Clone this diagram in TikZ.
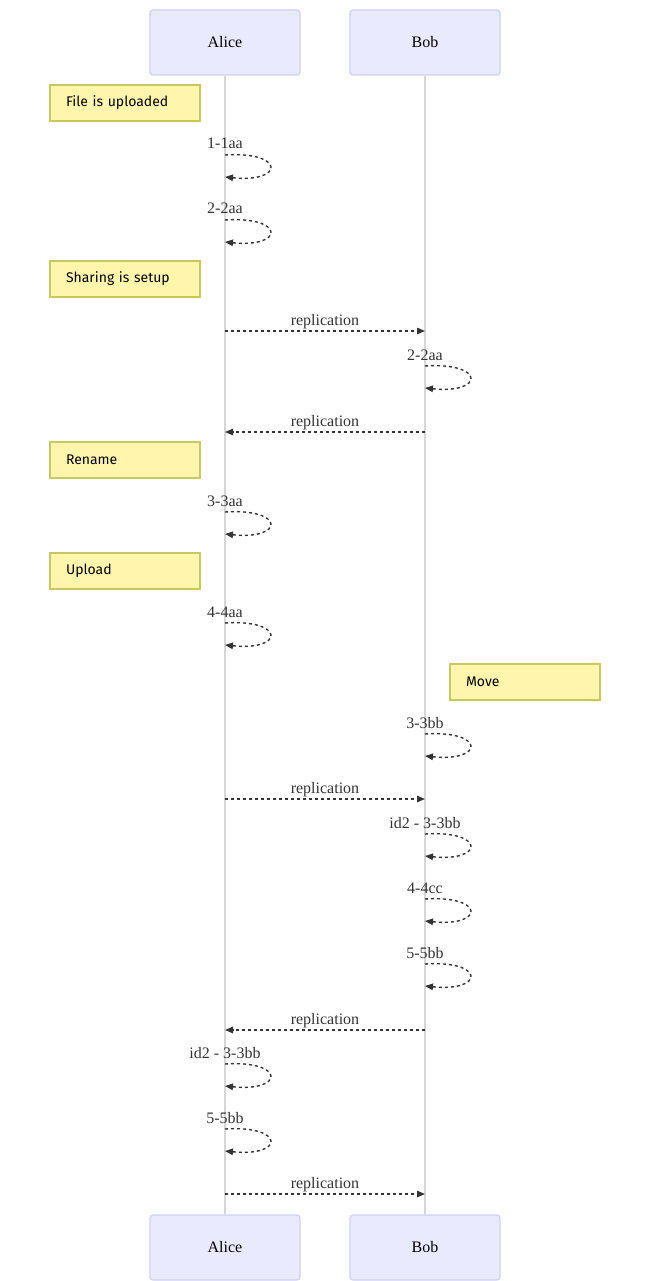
\documentclass[tikz,border=0pt]{standalone}
\usepackage{fontspec}
\setmainfont{Liberation Serif}
\newfontfamily\notefont{Fira Sans}
\usetikzlibrary{arrows.meta}
\definecolor{actorfill}{HTML}{EAEAFF}
\definecolor{actorline}{HTML}{CFCFF5}
\definecolor{notefill}{HTML}{FFF5AD}
\definecolor{noteline}{HTML}{C8C860}
\definecolor{lifeline}{HTML}{D6D6D6}
\definecolor{msgcol}{HTML}{333333}
\tikzset{
  actor/.style={draw=actorline, fill=actorfill, line width=1.2pt, rounded corners=3pt,
    minimum width=150pt, minimum height=65pt, inner sep=0pt,
    font=\fontsize{16}{19}\selectfont, text=black},
  note/.style={draw=noteline, fill=notefill, line width=1.2pt,
    minimum width=150pt, minimum height=36pt, inner sep=0pt, text width=118pt, align=left,
    font=\notefont\fontsize{14}{17}\selectfont, text=black},
  life/.style={draw=lifeline, line width=1.5pt},
  msg/.style={draw=msgcol, line width=1.4pt, dash pattern=on 3pt off 3pt,
    -{Triangle[length=8pt,width=6.5pt]}},
  lbl/.style={font=\fontsize{16}{19}\selectfont, text=msgcol, inner sep=0pt},
}
\begin{document}
\begin{tikzpicture}[x=1pt,y=-1pt]
\useasboundingbox (0,0) rectangle (650,1281);
% actors
\node[actor] (aliceT) at (225,42.5) {Alice};
\node[actor] (bobT) at (425,42.5) {Bob};
\node[actor] (aliceB) at (225,1247.5) {Alice};
\node[actor] (bobB) at (425,1247.5) {Bob};
% lifelines
\draw[life] (aliceT.south) -- (aliceB.north);
\draw[life] (bobT.south) -- (bobB.north);
% notes
\node[note] (n1) at (125,103) {File is uploaded};
\node[note] (n2) at (125,279) {Sharing is setup};
\node[note] (n3) at (125,460) {Rename};
\node[note] (n4) at (125,571) {Upload};
\node[note] (n5) at (525,682) {Move};
% self loops
\foreach \name/\x/\y/\t in {s1/225/155/1-1aa, s2/225/220/2-2aa, s3/425/366/2-2aa,
  s4/225/512/3-3aa, s5/225/623/4-4aa, s6/425/734/3-3bb, s7/425/834/id2 - 3-3bb,
  s8/425/899/4-4cc, s9/425/964/5-5bb, s10/225/1064/id2 - 3-3bb, s11/225/1129/5-5bb}{
  \coordinate (\name a) at (\x,\y);
  \coordinate (\name b) at (\x,\y+22);
  \node[lbl, anchor=base] (\name l) at (\x,\y-6) {\t};
  \draw[msg] (\name a) .. controls +(60,-4) and +(60,6) .. (\name b);
}
% messages
\foreach \name/\y/\fromx/\tox in {m1/331/225/425, m2/432/425/225, m3/799/225/425,
  m4/1030/425/225, m5/1194/225/425}{
  \coordinate (\name f) at (\fromx,\y);
  \coordinate (\name t) at (\tox,\y);
  \node[lbl, anchor=base] (\name l) at (325,\y-6) {replication};
  \draw[msg] (\name f) -- (\name t);
}
\end{tikzpicture}
\end{document}
